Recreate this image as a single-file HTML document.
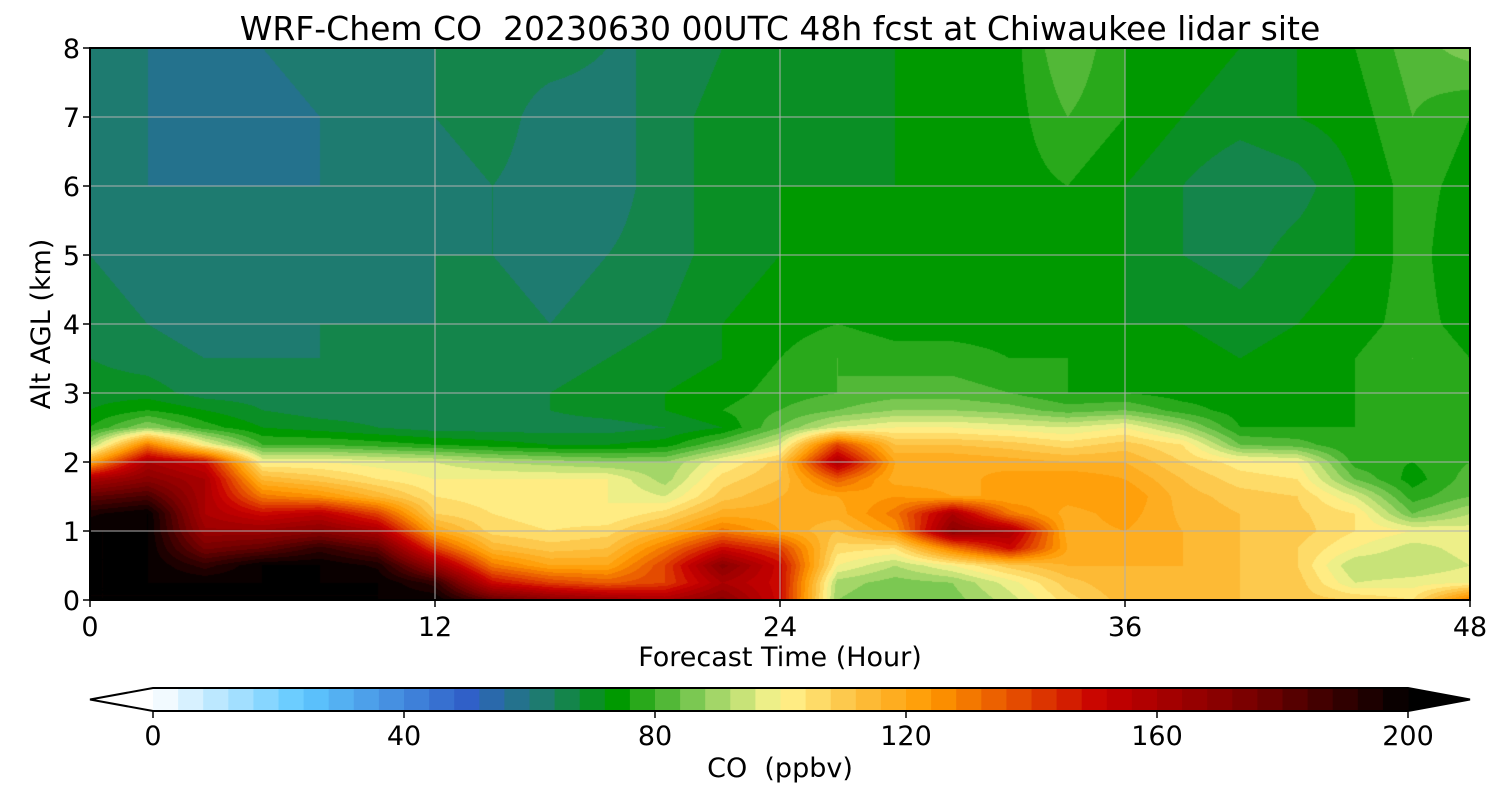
<!DOCTYPE html>
<html><head><meta charset="utf-8">
<style>
html,body{margin:0;padding:0;background:#fff;}
#wrap{position:relative;width:1500px;height:800px;overflow:hidden;font-family:"DejaVu Sans","Liberation Sans",sans-serif;}
canvas{position:absolute;left:90px;top:48px;}
svg{position:absolute;left:0;top:0;}
text{white-space:pre;}
</style></head>
<body>
<div id="wrap">
<canvas id="cv" width="1380" height="552"></canvas>
<svg id="sv" width="1500" height="800"></svg>
</div>
<script>
const hours=[0,2,4,6,8,10,12,14,16,18,20,22,24,26,28,30,32,34,36,38,40,42,44,46,48];
const alts=[0,0.25,0.5,0.75,1,1.25,1.5,1.75,2,2.25,2.5,2.75,3,3.5,4,5,6,7,8];
const co00=[200,200,200,200,200,200,200,180,170,165,160,170,150,88,84,86,94,106,114,114,112,110,108,104,130];
const co025=[200,200,200,200,200,200,190,150,140,135,140,160,150,90,86,88,98,110,116,114,112,110,96,98,100];
const co050=[200,200,190,200,200,195,165,130,120,120,140,170,150,100,92,100,110,116,116,116,112,108,92,92,96];
const co075=[200,200,175,180,190,180,140,115,110,112,130,150,140,106,104,130,150,120,118,116,112,108,100,94,98];
const co100=[200,200,165,165,170,160,120,106,104,106,116,130,120,112,124,170,160,118,120,116,112,110,104,100,98];
const co125=[195,200,160,150,155,140,108,104,102,100,106,118,118,118,130,160,130,118,122,115,112,109,104,84,92];
const co150=[180,185,160,130,125,115,104,102,102,100,96,110,116,120,124,120,120,122,124,114,110,108,96,78,84];
const co175=[160,170,160,115,110,104,100,100,100,100,90,106,112,135,118,118,122,124,120,112,106,104,84,74,82];
const co200=[120,160,150,100,100,98,96,92,90,88,88,100,110,160,120,120,118,116,116,108,102,100,78,76,80];
const co225=[90,130,100,80,80,78,76,74,72,72,74,84,96,140,112,112,110,106,110,104,84,82,76,80,80];
const co250=[76,88,78,72,70,68,66,66,66,66,68,72,84,96,100,100,98,96,100,90,76,76,76,78,80];
const co275=[72,76,72,68,66,66,66,66,68,70,72,76,80,84,88,88,86,82,84,78,74,74,76,78,78];
const co300=[70,70,66,66,66,66,66,66,68,70,72,74,78,80,82,82,80,76,76,74,74,74,76,78,78];
const co350=[68,66,64,64,64,64,66,66,66,68,70,72,76,80,78,78,76,76,74,74,72,74,76,80,76];
const co400=[66,64,62,62,64,64,64,66,64,66,68,72,74,76,74,74,74,74,72,72,70,72,74,78,74];
const co500=[64,62,60,60,62,62,64,64,62,64,66,70,72,72,72,72,72,74,72,68,66,70,72,78,72];
const co600=[62,60,60,60,60,62,62,64,62,62,66,70,72,72,72,72,74,76,72,68,64,66,72,78,74];
const co700=[62,60,58,58,60,62,64,66,62,62,66,70,72,70,72,72,74,80,76,72,70,72,74,80,76];
const co800=[62,60,58,60,62,62,64,66,66,64,64,68,72,72,72,72,74,84,76,74,72,72,76,82,86];
const xTicks=[0,12,24,36,48];
const yTicks=[0,1,2,3,4,5,6,7,8];
const cbTicks=[0,40,80,120,160,200];
const grid=[co00,co025,co050,co075,co100,co125,co150,co175,co200,co225,co250,co275,co300,co350,co400,co500,co600,co700,co800];

const stops=[[0,[255,255,255]],[24,[95,200,255]],[50,[48,96,200]],[62,[30,123,112]],[74,[0,153,0]],[88,[144,208,96]],[100,[255,245,144]],[112,[253,192,64]],[124,[255,153,0]],[140,[224,64,0]],[151,[200,0,0]],[175,[120,0,0]],[200,[0,0,0]]];
function cmap(v){
  if(v<=stops[0][0])return stops[0][1];
  for(let i=1;i<stops.length;i++){if(v<=stops[i][0]){const a=stops[i-1],b=stops[i],t=(v-a[0])/(b[0]-a[0]);return a[1].map((c,k)=>Math.round(c+(b[1][k]-c)*t));}}
  return stops[stops.length-1][1];
}
const PL=90,PT=48,PW=1380,PH=552;
const xs=h=>PL+h/48*PW, ys=a=>PT+PH-a/8*PH;
function interp(h,a){
  let i=0;while(i<hours.length-2&&h>hours[i+1])i++;
  let j=0;while(j<alts.length-2&&a>alts[j+1])j++;
  const tx=(h-hours[i])/(hours[i+1]-hours[i]),ty=(a-alts[j])/(alts[j+1]-alts[j]);
  const v00=grid[j][i],v10=grid[j][i+1],v01=grid[j+1][i],v11=grid[j+1][i+1];
  return (v00*(1-tx)+v10*tx)*(1-ty)+(v01*(1-tx)+v11*tx)*ty;
}
const cv=document.getElementById('cv'),ctx=cv.getContext('2d'),img=ctx.createImageData(PW,PH);
for(let py=0;py<PH;py++){const a=(PH-py-0.5)/PH*8;
 for(let px=0;px<PW;px++){const h=(px+0.5)/PW*48;let v=interp(h,a);
  v=Math.min(200,Math.max(0,Math.floor(v/4)*4+2));const c=cmap(v),o=(py*PW+px)*4;
  img.data[o]=c[0];img.data[o+1]=c[1];img.data[o+2]=c[2];img.data[o+3]=255;}}
ctx.putImageData(img,0,0);

const NS='http://www.w3.org/2000/svg',sv=document.getElementById('sv');
function el(t,at,txt){const e=document.createElementNS(NS,t);for(const k in at)e.setAttribute(k,at[k]);if(txt!==undefined)e.textContent=txt;sv.appendChild(e);return e;}
let e;
xTicks.forEach(h=>{
 if(h>0&&h<48){e=el('line',{x1:xs(h),x2:xs(h),y1:PT,y2:PT+PH,stroke:'#b0b0b0','stroke-width':1});
 }
 e=el('line',{x1:xs(h),x2:xs(h),y1:PT+PH,y2:PT+PH+7,stroke:'#000','stroke-width':1.5});
 
 e=el('text',{x:xs(h),y:PT+PH+36,'font-size':27,'text-anchor':'middle'},String(h));
 
});
yTicks.forEach(a=>{
 if(a>0&&a<8){e=el('line',{x1:PL,x2:PL+PW,y1:ys(a),y2:ys(a),stroke:'#b0b0b0','stroke-width':1});
 }
 e=el('line',{x1:PL-7,x2:PL,y1:ys(a),y2:ys(a),stroke:'#000','stroke-width':1.5});
 
 e=el('text',{x:PL-10,y:ys(a)+10,'font-size':27,'text-anchor':'end'},String(a));
 
});
e=el('rect',{x:PL,y:PT,width:PW,height:PH,fill:'none',stroke:'#000','stroke-width':2});

e=el('text',{x:780,y:40,'font-size':33,'text-anchor':'middle'},'WRF-Chem CO  20230630 00UTC 48h fcst at Chiwaukee lidar site');

e=el('text',{x:780,y:666,'font-size':27,'text-anchor':'middle'},'Forecast Time (Hour)');

e=el('text',{x:0,y:0,'font-size':27,'text-anchor':'middle',transform:'translate(50,324) rotate(-90)'},'Alt AGL (km)');

// colorbar
const CB0=153,CB1=1408,CBT=688,CBB=711,cx=v=>CB0+v/200*(CB1-CB0);
e=el('polygon',{points:`${CB0},${CBT} 90,${(CBT+CBB)/2} ${CB0},${CBB}`,fill:'#fff'});

e=el('polygon',{points:`${CB1},${CBT} 1470,${(CBT+CBB)/2} ${CB1},${CBB}`,fill:'#000'});

for(let v=0;v<200;v+=4){const c=cmap(v+2);
 e=el('rect',{x:cx(v),y:CBT,width:cx(v+4)-cx(v)+0.6,height:CBB-CBT,fill:`rgb(${c[0]},${c[1]},${c[2]})`});
 }
e=el('polygon',{points:`90,${(CBT+CBB)/2} ${CB0},${CBT} ${CB1},${CBT} 1470,${(CBT+CBB)/2} ${CB1},${CBB} ${CB0},${CBB}`,fill:'none',stroke:'#000','stroke-width':2});

cbTicks.forEach(v=>{
 e=el('line',{x1:cx(v),x2:cx(v),y1:CBB,y2:CBB+7,stroke:'#000','stroke-width':1.5});
 
 e=el('text',{x:cx(v),y:745,'font-size':27,'text-anchor':'middle'},String(v));
 
});
e=el('text',{x:780,y:777,'font-size':27,'text-anchor':'middle'},'CO  (ppbv)');

</script>
</body></html>
